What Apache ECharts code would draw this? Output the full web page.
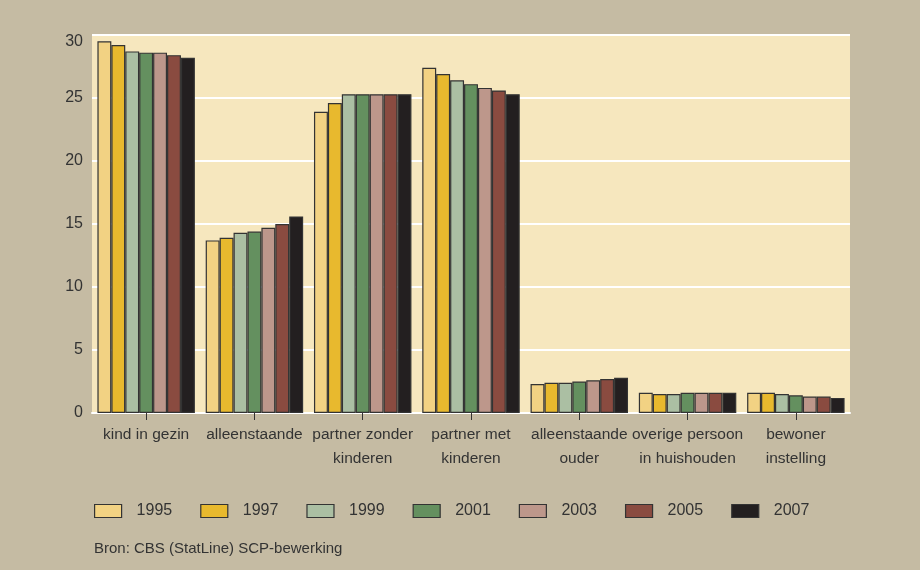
<!DOCTYPE html>
<html>
<head>
<meta charset="utf-8">
<script src="https://cdn.jsdelivr.net/npm/echarts@6/dist/echarts.min.js"></script>
<style>
html,body{margin:0;padding:0;background:#c5bba3;}
#chart{width:920px;height:570px;}
</style>
</head>
<body>
<div id="chart"></div>
<script>
var categories = ["kind in gezin", "alleenstaande", "partner zonder\nkinderen", "partner met\nkinderen", "alleenstaande\nouder", "overige persoon\nin huishouden", "bewoner\ninstelling"];
var years = ["1995", "1997", "1999", "2001", "2003", "2005", "2007"];
var v1995 = [29.5, 13.7, 23.9, 27.4, 2.3, 1.6, 1.6];
var v1997 = [29.2, 13.9, 24.6, 26.9, 2.4, 1.5, 1.6];
var v1999 = [28.7, 14.3, 25.3, 26.4, 2.4, 1.5, 1.5];
var v2001 = [28.6, 14.4, 25.3, 26.1, 2.5, 1.6, 1.4];
var v2003 = [28.6, 14.7, 25.3, 25.8, 2.6, 1.6, 1.3];
var v2005 = [28.4, 15.0, 25.3, 25.6, 2.7, 1.6, 1.3];
var v2007 = [28.2, 15.6, 25.3, 25.3, 2.8, 1.6, 1.2];
var yTicks = [0, 5, 10, 15, 20, 25, 30];
var sourceText = "Bron: CBS (StatLine) SCP-bewerking";

var colors = ['#f2d283', '#e8b92e', '#abbfa3', '#64905f', '#bd978b', '#8a4b40', '#231f20'];
var allValues = [v1995, v1997, v1999, v2001, v2003, v2005, v2007];
var FONT = '"Liberation Sans", Arial, sans-serif';
var yMax = yTicks[yTicks.length - 1];

var series = years.map(function (y, i) {
  return {
    name: y,
    type: 'bar',
    data: allValues[i],
    barGap: '0%',
    barCategoryGap: '10%',
    itemStyle: { color: colors[i], borderColor: '#333333', borderWidth: 1.2 }
  };
});

var chart = echarts.init(document.getElementById('chart'), null, { renderer: 'canvas' });
chart.setOption({
  backgroundColor: '#c5bba3',
  animation: false,
  textStyle: { fontFamily: FONT },
  grid: {
    left: 92, right: 70, top: 35, bottom: 157,
    show: true, backgroundColor: '#f6e7be', borderWidth: 0
  },
  legend: {
    left: 94, top: 503, padding: 0,
    itemWidth: 27, itemHeight: 13, itemGap: 28,
    icon: 'rect',
    selectedMode: false,
    data: years.map(function (y, i) {
      return { name: y, itemStyle: { color: colors[i], borderColor: '#333333', borderWidth: 1.2 } };
    }),
    textStyle: { color: '#333333', fontSize: 16, fontFamily: FONT, padding: [0, 0, 0, 10] }
  },
  graphic: [{
    type: 'text', left: 94, top: 541,
    style: { text: sourceText, fill: '#333333', font: '15px "Liberation Sans", Arial, sans-serif' }
  }],
  xAxis: {
    type: 'category',
    data: categories,
    axisLine: { show: true, lineStyle: { color: '#ffffff', width: 2 } },
    axisTick: { show: true, alignWithLabel: true, length: 7, lineStyle: { color: '#333333', width: 1 } },
    axisLabel: { color: '#333333', fontSize: 15.5, lineHeight: 24, margin: 10, interval: 0, fontFamily: FONT }
  },
  yAxis: {
    type: 'value',
    min: yTicks[0], max: yMax, interval: 5,
    axisLine: { show: false },
    axisTick: { show: false },
    axisLabel: {
      color: '#333333', fontSize: 16, margin: 9, fontFamily: FONT,
      formatter: function (v) { return v === yMax ? '{t|' + v + '}' : String(v); },
      rich: { t: { color: '#333333', fontSize: 16, fontFamily: FONT, padding: [13, 0, 0, 0] } }
    },
    splitLine: { show: true, lineStyle: { color: '#ffffff', width: 2 } }
  },
  series: series
});
</script>
</body>
</html>
